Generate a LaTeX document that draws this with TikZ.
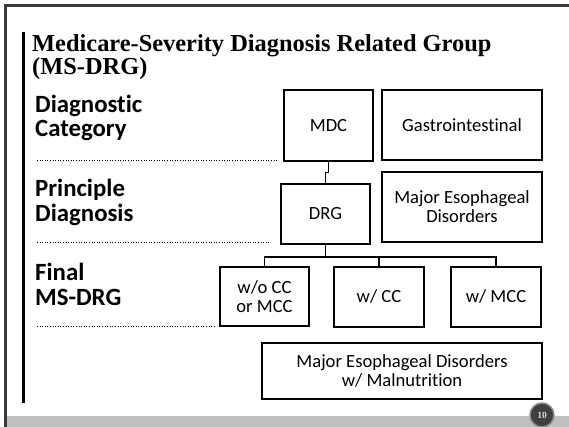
\documentclass[tikz,border=0pt]{standalone}
\usepackage{fontspec}
\usetikzlibrary{calc}
\newfontfamily\titlefont{Liberation Serif}
\newfontfamily\calib[Ligatures=NoCommon]{Carlito}
\definecolor{framegray}{HTML}{3A3A3A}
\definecolor{bargray}{HTML}{BFBFBF}
\definecolor{badgefill}{HTML}{404040}
\definecolor{badgeedge}{HTML}{8C8C8C}
\tikzset{
  titleline/.style={anchor=base west, inner sep=0pt, font=\titlefont\bfseries\fontsize{24.4}{24}\selectfont},
  levellabel/.style={anchor=base west, inner sep=0pt, font=\calib\bfseries\fontsize{24.8}{24}\selectfont},
  catbox/.style={draw=black, line width=2pt, align=center, inner sep=2pt,
    font=\calib\fontsize{18.6}{19}\selectfont},
  link/.style={draw=black, line width=1.2pt},
  levelsep/.style={draw=black, line width=1.2pt, dash pattern=on 1pt off 1.6pt},
}
\begin{document}
\begin{tikzpicture}[x=1pt, y=-1pt]
  \useasboundingbox (0,0) rectangle (569,427);
  \fill[white] (0,0) rectangle (569,427);

  % slide frame and footer band
  \fill[bargray] (7,416) rectangle (569,427);
  \draw[framegray, line width=2.2pt] (5.5,427) -- (5.5,5.5) -- (569,5.5);
  \draw[black, line width=3pt] (23.5,32) -- (23.5,403);

  % title
  \node[titleline] (t1) at (32,52) {Medicare-Severity Diagnosis Related Group};
  \node[titleline] (t2) at (32,74.5) {(MS-DRG)};

  % level labels
  \node[levellabel] (l1a) at (35,112.5) {Diagnostic};
  \node[levellabel] (l1b) at (35,137) {Category};
  \node[levellabel] (l2a) at (35,197) {Principle};
  \node[levellabel] (l2b) at (35,221.5) {Diagnosis};
  \node[levellabel] (l3a) at (35,280) {Final};
  \node[levellabel] (l3b) at (35,305) {MS-DRG};

  % boxes
  \node[catbox, minimum width=89pt, minimum height=71pt] (mdc) at (328.5,125.5) {MDC};
  \node[catbox, minimum width=160pt, minimum height=70pt] (gi) at (462,125) {Gastrointestinal};
  \node[catbox, minimum width=89pt, minimum height=60pt] (drg) at (325.5,214) {DRG};
  \node[catbox, minimum width=160pt, minimum height=70pt] (med) at (462,207) {Major Esophageal\\Disorders};
  \node[catbox, minimum width=89pt, minimum height=59pt] (wocc) at (264.5,296.5) {w/o CC\\or MCC};
  \node[catbox, minimum width=90pt, minimum height=60pt] (wcc) at (379,296.5) {w/ CC};
  \node[catbox, minimum width=90pt, minimum height=60pt] (wmcc) at (496,296.5) {w/ MCC};
  \node[catbox, minimum width=280pt, minimum height=56pt] (mal) at (402,371) {Major Esophageal Disorders\\w/ Malnutrition};

  % connectors
  \draw[link] (mdc.south) |- ($(mdc.south)!.5!(drg.north)$) -| (drg.north);
  \coordinate (bus) at ($(drg.south)+(0,12)$);
  \draw[link] (drg.south) -- (bus);
  \draw[link] (wocc.north) |- (bus) -| (wmcc.north);
  \draw[link] (bus) -| (wcc.north);

  % dotted level separators
  \coordinate (s1) at (37,160.5);
  \coordinate (s2) at (37,242.7);
  \coordinate (s3) at (37,326.5);
  \draw[levelsep] (s1) -- ($(s1 -| mdc.west)+(-5,0)$);
  \draw[levelsep] (s2) -- ($(s2 -| drg.west)+(-9,0)$);
  \draw[levelsep] (s3) -- ($(s3 -| wocc.west)+(-5,0)$);

  % page number badge
  \node[circle, fill=badgefill, draw=badgeedge, line width=1.5pt, minimum size=24pt, inner sep=0pt,
        text=black!15, font=\titlefont\bfseries\fontsize{9.5}{9.5}\selectfont] (pg) at (542,415) {10};
\end{tikzpicture}
\end{document}
